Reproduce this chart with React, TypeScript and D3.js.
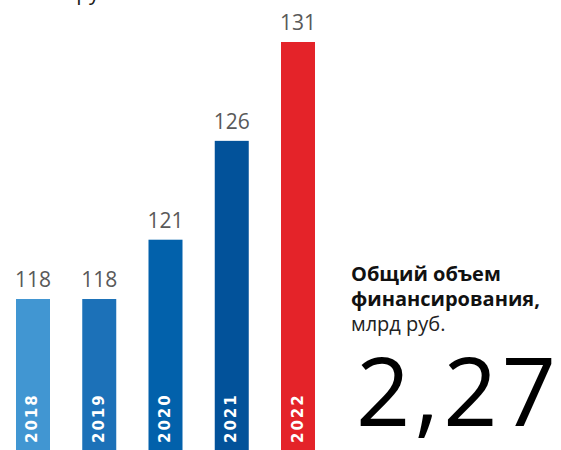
import React from "react";
import * as d3 from "d3";

const years = ["2018", "2019", "2020", "2021", "2022"];
const values = [118, 118, 121, 126, 131];
const colors = ["#4196d2", "#1c71b8", "#0261ab", "#02529a", "#e42329"];
const titleBold = ["Общий объем", "финансирования,"];
const titleUnit = "млрд руб.";
const totalValue = "2,27";
const topUnit = "млн руб.";

export default function App() {
  const W = 561, H = 450;
  const x = d3.scaleBand<string>().domain(years).range([16, 315]).paddingInner(0.4868).paddingOuter(0);
  const y = d3.scaleLinear().domain([110.11, 131]).range([455, 42]);
  const font = "'Open Sans', sans-serif";
  return (
    <svg width={W} height={H} style={{ position: "absolute", left: 0, top: 0, background: "#fff" }}>
      <text x={30} y={0} fontFamily={font} fontSize={21} fill="#1a1a1a">{topUnit}</text>
      {years.map((yr, i) => {
        const bx = x(yr)!;
        const bw = x.bandwidth();
        const top = y(values[i]);
        const cx = bx + bw / 2;
        return (
          <g key={yr}>
            <rect x={bx} y={top} width={bw} height={y.range()[0] - top} fill={colors[i]} />
            <text x={cx} y={top - 12} textAnchor="middle" fontFamily={font} fontSize={21} fill="#595959">
              {values[i]}
            </text>
            <text
              transform={`translate(${cx + 4.5},${443}) rotate(-90)`}
              fontFamily="'DejaVu Sans', sans-serif"
              fontWeight="bold"
              fontSize={15}
              letterSpacing={2}
              fill="#fff"
            >
              {yr}
            </text>
          </g>
        );
      })}
      <text x={351} y={281} fontFamily={font} fontWeight="bold" fontSize={20} fill="#111">{titleBold[0]}</text>
      <text x={351} y={306} fontFamily={font} fontWeight="bold" fontSize={20} fill="#111">{titleBold[1]}</text>
      <text x={351} y={331} fontFamily={font} fontSize={20} fill="#222">{titleUnit}</text>
      <text x={356} y={426} fontFamily={font} fontSize={95} fill="#000" textLength={200} lengthAdjust="spacing">{totalValue}</text>
    </svg>
  );
}
